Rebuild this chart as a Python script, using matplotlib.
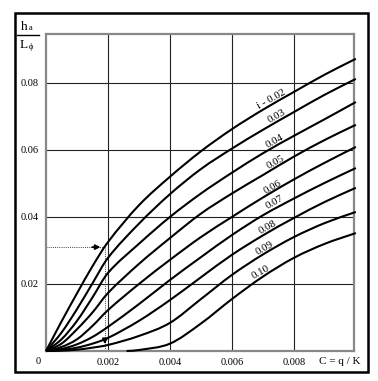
import numpy as np
import matplotlib
matplotlib.use("Agg")
import matplotlib.pyplot as plt
from matplotlib.patches import Rectangle, PathPatch
from matplotlib.path import Path

plt.rcParams['font.family'] = ['Liberation Serif', 'DejaVu Serif']

# values: C = q/K on x, ha/Lphi on y
c_vals = [0.0, 0.0005, 0.001, 0.0015, 0.002, 0.003, 0.004, 0.005,
          0.006, 0.007, 0.008, 0.009, 0.010]

curve_labels = ["i - 0.02", "0.03", "0.04", "0.05", "0.06", "0.07", "0.08", "0.09", "0.10"]

h_002 = [0, 0.0088, 0.0172, 0.0253, 0.0325, 0.0435, 0.0520, 0.0596, 0.0662, 0.0720, 0.0773, 0.0825, 0.0872]
h_003 = [0, 0.0055, 0.0125, 0.0202, 0.0278, 0.0380, 0.0468, 0.0543, 0.0604, 0.0660, 0.0713, 0.0765, 0.0812]
h_004 = [0, 0.0035, 0.0090, 0.0160, 0.0233, 0.0320, 0.0400, 0.0470, 0.0532, 0.0590, 0.0642, 0.0692, 0.0743]
h_005 = [0, 0.0022, 0.0065, 0.0115, 0.0173, 0.0260, 0.0337, 0.0410, 0.0470, 0.0525, 0.0580, 0.0630, 0.0675]
h_006 = [0, 0.0012, 0.0035, 0.0075, 0.0122, 0.0200, 0.0272, 0.0340, 0.0400, 0.0458, 0.0512, 0.0562, 0.0609]
h_007 = [0, 0.0006, 0.0020, 0.0042, 0.0072, 0.0140, 0.0212, 0.0280, 0.0346, 0.0405, 0.0455, 0.0502, 0.0546]
h_008 = [0, 0.0003, 0.0010, 0.0022, 0.0039, 0.0090, 0.0152, 0.0220, 0.0287, 0.0345, 0.0397, 0.0445, 0.0487]
h_009 = [0, 0.0001, 0.0004, 0.0010, 0.0018, 0.0045, 0.0084, 0.0155, 0.0227, 0.0288, 0.0340, 0.0382, 0.0415]
h_010 = [None, None, None, None, 0.0, 0.0003, 0.0022, 0.0082, 0.0155, 0.0222, 0.0278, 0.0320, 0.0352]
h_010_start = 0.0026

curves = [h_002, h_003, h_004, h_005, h_006, h_007, h_008, h_009, h_010]

# label positions (centre of rotated text, just above each curve)
lab_x = [0.00726, 0.00745, 0.00739, 0.00742, 0.00732, 0.00739, 0.00716, 0.00706, 0.00694]
lab_y = [0.0750, 0.0700, 0.0626, 0.0564, 0.0490, 0.0443, 0.0369, 0.0307, 0.0234]

x_ticks = [0.002, 0.004, 0.006, 0.008]
x_tick_labels = ["0.002", "0.004", "0.006", "0.008"]
y_ticks = [0.02, 0.04, 0.06, 0.08]
y_tick_labels = ["0.02", "0.04", "0.06", "0.08"]

# example reading shown with dotted lines
read_c = 0.0019
read_h = 0.031


def smooth_path(xs, ys):
    # cubic Hermite segments drawn as Bezier curves through the read points
    xs = np.asarray(xs, float)
    ys = np.asarray(ys, float)
    n = len(xs)
    m = np.zeros(n)
    m[0] = (ys[1] - ys[0]) / (xs[1] - xs[0])
    m[-1] = (ys[-1] - ys[-2]) / (xs[-1] - xs[-2])
    for i in range(1, n - 1):
        m[i] = (ys[i + 1] - ys[i - 1]) / (xs[i + 1] - xs[i - 1])
    verts = [(xs[0], ys[0])]
    codes = [Path.MOVETO]
    for i in range(n - 1):
        h = xs[i + 1] - xs[i]
        verts += [(xs[i] + h / 3, ys[i] + m[i] * h / 3),
                  (xs[i + 1] - h / 3, ys[i + 1] - m[i + 1] * h / 3),
                  (xs[i + 1], ys[i + 1])]
        codes += [Path.CURVE4] * 3
    return Path(verts, codes)


fig = plt.figure(figsize=(3.78, 3.81), dpi=100)
ax = fig.add_axes([0.1217, 0.0787, 0.8148, 0.8321])

for ys in curves:
    xs = [x for x, y in zip(c_vals, ys) if y is not None]
    yy = [y for y in ys if y is not None]
    if ys is h_010:
        xs[0] = h_010_start
    ax.add_patch(PathPatch(smooth_path(xs, yy), fill=False, ec="black",
                           lw=1.5, zorder=3, clip_on=False))

for txt, lx, ly in zip(curve_labels, lab_x, lab_y):
    ax.text(lx, ly, txt, fontsize=7.8, rotation=29, ha="center", va="center",
            rotation_mode="anchor", zorder=4)

ax.set_xlim(0, 0.00994)
ax.set_ylim(0, 0.0946)
ax.set_xticks(x_ticks)
ax.set_xticklabels(x_tick_labels)
ax.set_yticks(y_ticks)
ax.set_yticklabels(y_tick_labels)
ax.tick_params(length=0, labelsize=7.5, pad=5)
ax.grid(True, color="#222222", lw=0.8)
ax.set_axisbelow(True)
for s in ax.spines.values():
    s.set_color("#888888")
    s.set_linewidth(1.6)

# dotted reading lines with arrows
ax.plot([0, read_c], [read_h, read_h], color="#444444", lw=0.7, ls=(0, (1, 1.2)), zorder=2)
ax.plot([read_c, read_c], [read_h, 0], color="#444444", lw=0.7, ls=(0, (1, 1.2)), zorder=2)
ax.annotate("", xy=(read_c - 0.00005, read_h), xytext=(read_c - 0.0005, read_h),
            arrowprops=dict(arrowstyle="-|>", color="black", lw=1.3, mutation_scale=7))
ax.annotate("", xy=(read_c, 0.0012), xytext=(read_c, 0.0045),
            arrowprops=dict(arrowstyle="-|>", color="black", lw=1.3, mutation_scale=7))

# corner and axis captions
fig.text(38 / 378, 1 - 362 / 381, "0", fontsize=7.5, ha="center", va="center")
fig.text(340 / 378, 1 - 362 / 381, "C = q / K", fontsize=8, ha="center", va="center")
fig.text(28 / 378, 1 - 27 / 381, "h", fontsize=9.5, ha="right", va="center")
fig.text(29 / 378, 1 - 28 / 381, "a", fontsize=6, ha="left", va="center")
fig.text(28 / 378, 1 - 45 / 381, "L", fontsize=9.5, ha="right", va="center")
fig.text(29 / 378, 1 - 47 / 381, "ϕ", fontsize=6, ha="left", va="center")
fig.add_artist(plt.Line2D([17 / 378, 39 / 378], [1 - 35 / 381, 1 - 35 / 381],
                          color="black", lw=1.0, transform=fig.transFigure))

# outer frame
fig.add_artist(Rectangle((15 / 378, 1 - 372 / 381), 353 / 378, 359 / 381,
                         transform=fig.transFigure, fill=False, ec="black", lw=1.8))

fig.savefig("out.png", dpi=100)
